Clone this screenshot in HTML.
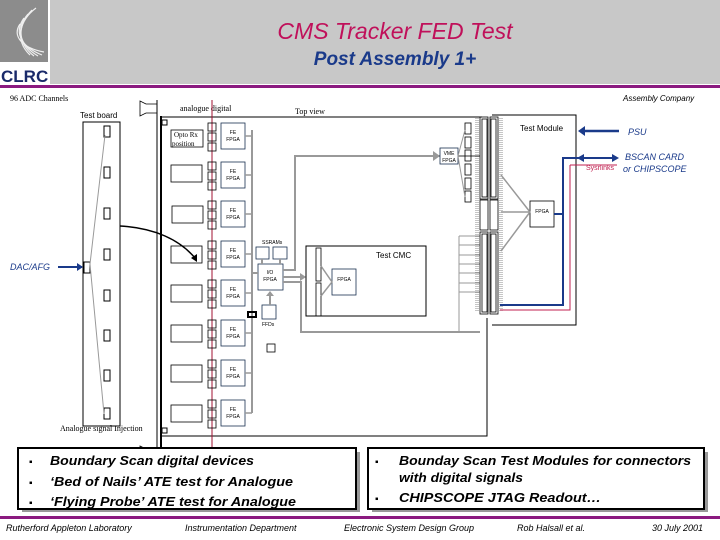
<!DOCTYPE html>
<html><head><meta charset="utf-8"><style>
body{margin:0;background:#fff;}
svg{display:block;font-family:"Liberation Sans",sans-serif;}
</style></head><body>
<svg width="720" height="540" viewBox="0 0 720 540" xmlns="http://www.w3.org/2000/svg">
<rect x="0" y="0" width="720" height="540" fill="#fff"/>
<!-- header -->
<rect x="50" y="0" width="670" height="84" fill="#c8c8c8"/>
<rect x="0" y="0" width="48" height="62" fill="#8c8c8c"/>
<g fill="none" stroke="#eee" stroke-width="1.2">
<path d="M36 8 C20 20 14 40 30 55"/><path d="M32 10 C18 24 16 42 34 56"/><path d="M28 14 C16 28 18 44 38 56"/><path d="M24 18 C14 32 20 46 42 55"/><path d="M20 24 C12 36 22 48 44 52"/>
</g>
<text x="1" y="82" font-size="17" font-weight="bold" fill="#1a2a6a">CLRC</text>
<rect x="0" y="85" width="720" height="3" fill="#8b1a80"/>
<text x="395" y="39" font-size="23" font-style="italic" fill="#c0105a" text-anchor="middle">CMS Tracker FED Test</text>
<text x="395" y="65" font-size="19" font-style="italic" font-weight="bold" fill="#1a3a8a" text-anchor="middle">Post Assembly 1+</text>

<g font-family="Liberation Serif,serif" font-size="8" fill="#000">
<text x="10" y="101">96 ADC Channels</text>
<text x="180" y="111">analogue digital</text>
<text x="295" y="114">Top view</text>
<text x="60" y="431">Analogue signal Injection</text>
</g>
<text x="623" y="101" font-size="8" font-style="italic">Assembly Company</text>
<text x="80" y="118" font-size="8">Test board</text>

<!-- test board -->
<rect x="83" y="122" width="37" height="304" fill="none" stroke="#000"/>
<g fill="none" stroke="#000">
<rect x="104" y="126" width="6" height="11"/><rect x="104" y="167" width="6" height="11"/><rect x="104" y="208" width="6" height="11"/><rect x="104" y="249" width="6" height="11"/><rect x="104" y="290" width="6" height="11"/><rect x="104" y="330" width="6" height="11"/><rect x="104" y="370" width="6" height="11"/><rect x="104" y="408" width="6" height="11"/>
<rect x="84" y="262" width="6" height="11"/>
</g>
<path d="M105 135 L90 264 L104 414" stroke="#999" fill="none"/>
<text x="10" y="270" font-size="9" font-style="italic" fill="#1a3a8a">DAC/AFG</text>
<path d="M58 267 L82 267" stroke="#1a3a8a" stroke-width="2"/><path d="M77 263 L83 267 L77 271Z" fill="#1a3a8a"/>
<path d="M120 226 C155 228 180 240 195 258" stroke="#000" stroke-width="1.5" fill="none"/><path d="M191 258 L197 262 L197 254Z" fill="#000"/>

<!-- front panel -->
<path d="M140 101 L146 104 L157 104 L157 113 L146 113 L140 116Z" fill="none" stroke="#000" stroke-width=".8"/>
<path d="M140 446 L146 449 L157 449 L157 458 L146 458 L140 462Z" fill="none" stroke="#000" stroke-width=".8"/>
<line x1="157" y1="100" x2="157" y2="462" stroke="#000"/>
<line x1="161" y1="116" x2="161" y2="462" stroke="#000" stroke-width="2"/>
<rect x="162" y="120" width="5" height="5" fill="none" stroke="#000"/>
<rect x="162" y="428" width="5" height="5" fill="none" stroke="#000"/>
<path d="M161 117 L482 117 M161 436 L487 436 L487 318" stroke="#000" fill="none"/>
<line x1="212" y1="100" x2="212" y2="498" stroke="#a01030"/>

<g stroke="#999" stroke-width="2" fill="none">
<line x1="252" y1="130" x2="252" y2="413"/>
</g>
<g fill="none" stroke="#000" stroke-width=".8">
<rect x="171" y="130" width="32" height="17"/><rect x="171" y="165" width="31" height="17"/><rect x="172" y="206" width="31" height="17"/><rect x="171" y="246" width="31" height="17"/><rect x="171" y="285" width="31" height="17"/><rect x="171" y="325" width="31" height="17"/><rect x="171" y="365" width="31" height="17"/><rect x="171" y="405" width="31" height="17"/>
</g>
<text x="174" y="137" font-family="Liberation Serif,serif" font-size="7">Opto Rx</text>
<text x="172" y="146" font-family="Liberation Serif,serif" font-size="7">position</text>

<g fill="none" stroke="#000" stroke-width=".8">
<rect x="208" y="123" width="8" height="8"/><rect x="208" y="133" width="8" height="8"/><rect x="208" y="143" width="8" height="8"/>
<rect x="208" y="162" width="8" height="8"/><rect x="208" y="172" width="8" height="8"/><rect x="208" y="182" width="8" height="8"/>
<rect x="208" y="201" width="8" height="8"/><rect x="208" y="211" width="8" height="8"/><rect x="208" y="221" width="8" height="8"/>
<rect x="208" y="241" width="8" height="8"/><rect x="208" y="251" width="8" height="8"/><rect x="208" y="261" width="8" height="8"/>
<rect x="208" y="280" width="8" height="8"/><rect x="208" y="290" width="8" height="8"/><rect x="208" y="300" width="8" height="8"/>
<rect x="208" y="320" width="8" height="8"/><rect x="208" y="330" width="8" height="8"/><rect x="208" y="340" width="8" height="8"/>
<rect x="208" y="360" width="8" height="8"/><rect x="208" y="370" width="8" height="8"/><rect x="208" y="380" width="8" height="8"/>
<rect x="208" y="400" width="8" height="8"/><rect x="208" y="410" width="8" height="8"/><rect x="208" y="420" width="8" height="8"/>
</g>
<g fill="#fff" stroke="#1a3050" stroke-width=".8">
<rect x="221" y="123" width="24" height="26"/><rect x="221" y="162" width="24" height="26"/><rect x="221" y="201" width="24" height="26"/><rect x="221" y="241" width="24" height="26"/><rect x="221" y="280" width="24" height="26"/><rect x="221" y="320" width="24" height="26"/><rect x="221" y="360" width="24" height="26"/><rect x="221" y="400" width="24" height="26"/>
</g>
<g stroke="#999" stroke-width="1.5">
<line x1="245" y1="136" x2="252" y2="136"/><line x1="245" y1="175" x2="252" y2="175"/><line x1="245" y1="214" x2="252" y2="214"/><line x1="245" y1="254" x2="252" y2="254"/><line x1="245" y1="293" x2="252" y2="293"/><line x1="245" y1="333" x2="252" y2="333"/><line x1="245" y1="373" x2="252" y2="373"/><line x1="245" y1="413" x2="252" y2="413"/>
</g>
<g font-size="5" text-anchor="middle" fill="#000">
<text x="233" y="134">FE</text><text x="233" y="141">FPGA</text>
<text x="233" y="173">FE</text><text x="233" y="180">FPGA</text>
<text x="233" y="212">FE</text><text x="233" y="219">FPGA</text>
<text x="233" y="252">FE</text><text x="233" y="259">FPGA</text>
<text x="233" y="291">FE</text><text x="233" y="298">FPGA</text>
<text x="233" y="331">FE</text><text x="233" y="338">FPGA</text>
<text x="233" y="371">FE</text><text x="233" y="378">FPGA</text>
<text x="233" y="411">FE</text><text x="233" y="418">FPGA</text>
</g>

<!-- center -->
<text x="262" y="244" font-size="5">SSRAMs</text>
<g fill="none" stroke="#1a3050" stroke-width=".8">
<rect x="256" y="247" width="13" height="12"/><rect x="273" y="247" width="14" height="12"/>
<rect x="258" y="264" width="25" height="26"/>
<rect x="262" y="305" width="14" height="14"/>
<rect x="267" y="344" width="8" height="8" stroke="#000"/>
</g>
<rect x="248" y="312" width="8" height="5" fill="none" stroke="#000" stroke-width="2"/>
<text x="270" y="274" font-size="5" text-anchor="middle">I/O</text><text x="270" y="281" font-size="5" text-anchor="middle">FPGA</text>
<text x="262" y="326" font-size="5">FFDs</text>
<g stroke="#999" stroke-width="2" fill="none">
<line x1="252" y1="273" x2="258" y2="273"/>
<path d="M283 270 L295 270 L295 156 L480 156"/>
<path d="M283 282 L301 282 L301 332 L480 332"/>
<line x1="283" y1="277" x2="300" y2="277"/>
<line x1="270" y1="305" x2="270" y2="295"/>
<line x1="262" y1="259" x2="262" y2="264"/><line x1="280" y1="259" x2="280" y2="264"/>
</g>
<path d="M300 273 L306 277 L300 281Z" fill="#999"/>
<path d="M266 296 L270 291 L274 296Z" fill="#999"/>
<path d="M433 151 L440 156 L433 161Z" fill="#999"/>
<rect x="440" y="148" width="18" height="16" fill="#fff" stroke="#1a3050" stroke-width=".8"/>
<text x="449" y="155" font-size="5" text-anchor="middle">VME</text><text x="449" y="162" font-size="5" text-anchor="middle">FPGA</text>
<g fill="none" stroke="#000" stroke-width=".8">
<rect x="465" y="123" width="6" height="11"/><rect x="465" y="137" width="6" height="11"/><rect x="465" y="150" width="6" height="11"/><rect x="465" y="164" width="6" height="11"/><rect x="465" y="178" width="6" height="11"/><rect x="465" y="191" width="6" height="11"/>
</g>
<path d="M458 156 L465 130 M458 156 L465 197" stroke="#999"/>
<rect x="306" y="246" width="120" height="70" fill="none" stroke="#000"/>
<text x="376" y="258" font-size="8">Test CMC</text>
<rect x="316" y="248" width="5" height="33" fill="none" stroke="#000" stroke-width=".8"/>
<rect x="316" y="283" width="5" height="33" fill="none" stroke="#000" stroke-width=".8"/>
<rect x="332" y="269" width="24" height="26" fill="none" stroke="#1a3050" stroke-width=".8"/>
<text x="344" y="281" font-size="5" text-anchor="middle">FPGA</text>
<path d="M321 266 L332 282 L321 296" stroke="#999" stroke-width="1.5" fill="none"/>
<g stroke="#999">
<line x1="459" y1="236" x2="480" y2="236"/><line x1="459" y1="245" x2="480" y2="245"/><line x1="459" y1="255" x2="480" y2="255"/><line x1="459" y1="264" x2="480" y2="264"/><line x1="459" y1="273" x2="480" y2="273"/><line x1="459" y1="283" x2="480" y2="283"/><line x1="459" y1="292" x2="480" y2="292"/><line x1="459" y1="236" x2="459" y2="332"/>
</g>
<g fill="none" stroke="#000" stroke-width=".8">
<rect x="480" y="117" width="8" height="82"/><rect x="482" y="119" width="5" height="78"/>
<rect x="480" y="200" width="8" height="30"/>
<rect x="480" y="232" width="8" height="82"/><rect x="482" y="234" width="5" height="78"/>
<rect x="490" y="117" width="8" height="82"/><rect x="491" y="119" width="5" height="78"/>
<rect x="490" y="200" width="8" height="30"/>
<rect x="490" y="232" width="8" height="82"/><rect x="491" y="234" width="5" height="78"/>
</g>
<g stroke="#000" stroke-width=".6" stroke-dasharray="0.7 1.3">
<line x1="478" y1="118" x2="478" y2="312"/><line x1="476" y1="118" x2="476" y2="312"/>
<line x1="500" y1="118" x2="500" y2="312"/><line x1="502" y1="118" x2="502" y2="312"/>
</g>
<path d="M492 115 L576 115 L576 325 L492 325" fill="none" stroke="#000"/>
<text x="520" y="131" font-size="8">Test Module</text>
<rect x="530" y="201" width="24" height="26" fill="#fff" stroke="#000" stroke-width=".8"/>
<text x="542" y="213" font-size="5" text-anchor="middle">FPGA</text>
<path d="M501 175 L530 212 M501 212 L530 212 M501 251 L530 212" stroke="#999" stroke-width="1.5" fill="none"/>
<path d="M554 214 L563 214 L563 158 L606 158 M563 214 L563 305 L500 305" stroke="#1a3a8a" stroke-width="2" fill="none"/>
<path d="M570 165 L570 310 L500 310 M570 165 L617 165" stroke="#c02050" stroke-width="1" fill="none"/>
<text x="586" y="170" font-size="7" fill="#c02050">Sysrlinks</text>
<path d="M583 131 L619 131" stroke="#1a3a8a" stroke-width="2.5"/><path d="M578 131 L585 126 L585 136Z" fill="#1a3a8a"/>
<path d="M578 158 L616 158" stroke="#1a3a8a" stroke-width="2"/><path d="M577 158 L584 154 L584 162Z" fill="#1a3a8a"/><path d="M619 158 L612 154 L612 162Z" fill="#1a3a8a"/>
<text x="628" y="135" font-size="9" font-style="italic" fill="#1a3a8a">PSU</text>
<text x="625" y="160" font-size="9" font-style="italic" fill="#1a3a8a">BSCAN CARD</text>
<text x="623" y="172" font-size="9" font-style="italic" fill="#1a3a8a">or CHIPSCOPE</text>

<!-- bottom boxes -->
<rect x="22" y="452" width="338" height="60" fill="#999"/>
<rect x="18" y="448" width="338" height="61" fill="#fff" stroke="#000" stroke-width="2"/>
<rect x="372" y="452" width="336" height="60" fill="#999"/>
<rect x="368" y="448" width="336" height="61" fill="#fff" stroke="#000" stroke-width="2"/>
<g font-size="13" font-style="italic" font-weight="bold" fill="#000">
<text x="29" y="465" font-size="10">▪</text><text x="50" y="465" textLength="204" lengthAdjust="spacingAndGlyphs">Boundary Scan digital devices</text>
<text x="29" y="486" font-size="10">▪</text><text x="50" y="486" textLength="243" lengthAdjust="spacingAndGlyphs">‘Bed of Nails’ ATE test for Analogue</text>
<text x="29" y="506" font-size="10">▪</text><text x="50" y="506" textLength="246" lengthAdjust="spacingAndGlyphs">‘Flying Probe’ ATE test for Analogue</text>
<text x="375" y="465" font-size="10">▪</text><text x="399" y="465" textLength="292" lengthAdjust="spacingAndGlyphs">Bounday Scan Test Modules for connectors</text>
<text x="399" y="482" textLength="124" lengthAdjust="spacingAndGlyphs">with digital signals</text>
<text x="375" y="502" font-size="10">▪</text><text x="399" y="502" textLength="202" lengthAdjust="spacingAndGlyphs">CHIPSCOPE  JTAG Readout…</text>
</g>
<rect x="0" y="516" width="720" height="3" fill="#8b1a80"/>
<g font-size="9" font-style="italic" fill="#000">
<text x="6" y="531">Rutherford Appleton Laboratory</text>
<text x="185" y="531">Instrumentation Department</text>
<text x="344" y="531">Electronic System Design Group</text>
<text x="517" y="531">Rob Halsall et al.</text>
<text x="652" y="531">30 July 2001</text>
</g>
</svg>
</body></html>
